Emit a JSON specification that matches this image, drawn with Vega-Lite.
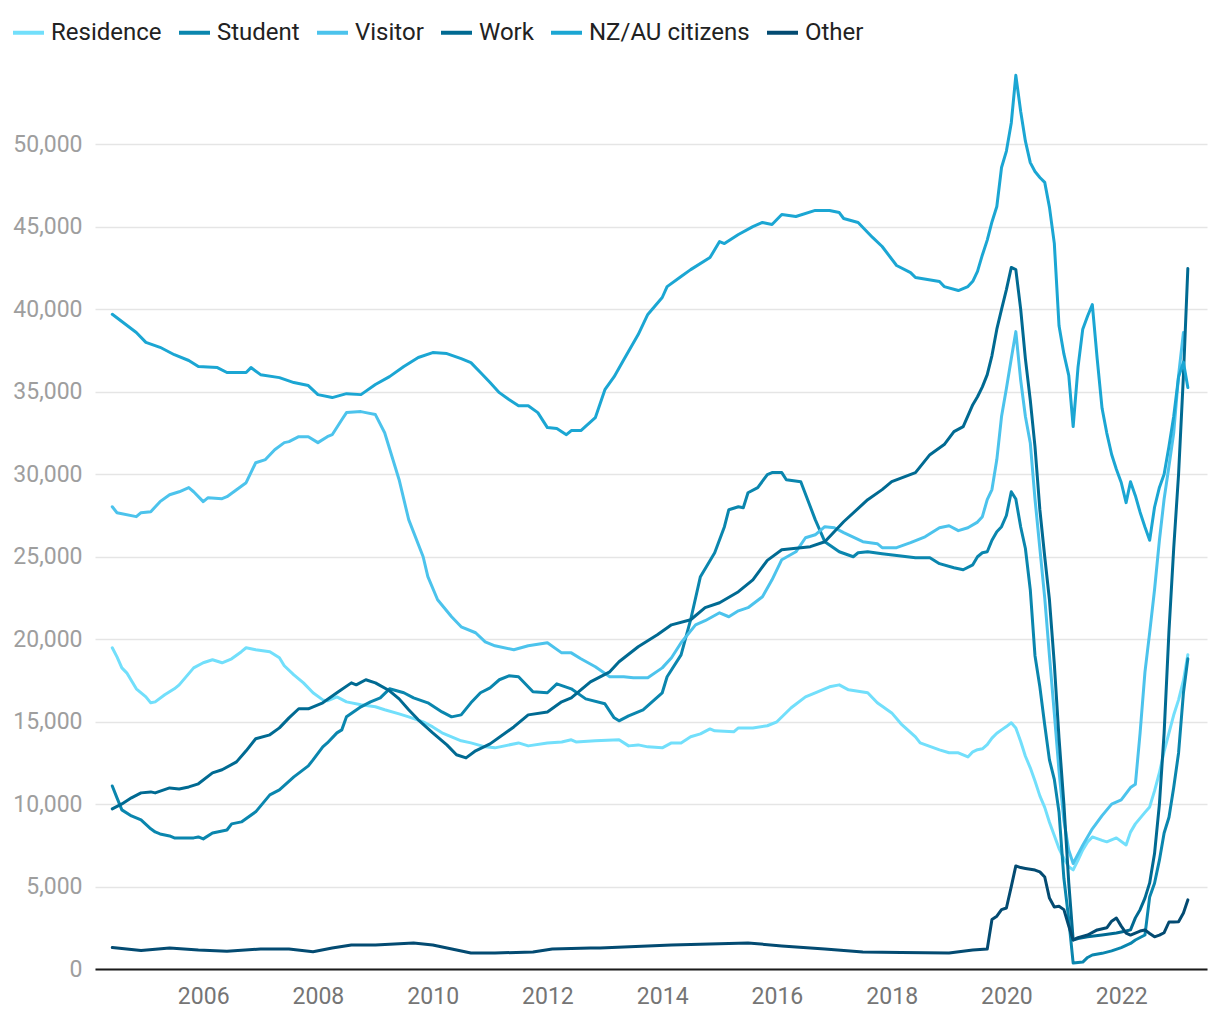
{
"$schema":"https://vega.github.io/schema/vega-lite/v6.json",
"width":1112,"height":907,
"autosize":{"type":"none"},
"padding":{"left":95,"top":62,"right":13,"bottom":51},
"background":"white",
"config":{"font":"Roboto","view":{"stroke":null}},
"datasets":{"rows":[
{"date":"2004-06","series":"Residence","value":19480},{"date":"2004-07","series":"Residence","value":18930},{"date":"2004-08","series":"Residence","value":18260},{"date":"2004-09","series":"Residence","value":17960},{"date":"2004-11","series":"Residence","value":16990},{"date":"2005-01","series":"Residence","value":16500},{"date":"2005-02","series":"Residence","value":16140},{"date":"2005-03","series":"Residence","value":16200},{"date":"2005-05","series":"Residence","value":16630},{"date":"2005-07","series":"Residence","value":16990},{"date":"2005-08","series":"Residence","value":17230},{"date":"2005-11","series":"Residence","value":18260},{"date":"2006-01","series":"Residence","value":18570},{"date":"2006-03","series":"Residence","value":18750},{"date":"2006-05","series":"Residence","value":18570},{"date":"2006-07","series":"Residence","value":18810},{"date":"2006-09","series":"Residence","value":19240},{"date":"2006-10","series":"Residence","value":19480},{"date":"2006-12","series":"Residence","value":19360},{"date":"2007-03","series":"Residence","value":19240},{"date":"2007-05","series":"Residence","value":18870},{"date":"2007-06","series":"Residence","value":18390},{"date":"2007-08","series":"Residence","value":17840},{"date":"2007-10","series":"Residence","value":17350},{"date":"2007-12","series":"Residence","value":16750},{"date":"2008-02","series":"Residence","value":16320},{"date":"2008-03","series":"Residence","value":16260},{"date":"2008-05","series":"Residence","value":16500},{"date":"2008-07","series":"Residence","value":16200},{"date":"2008-10","series":"Residence","value":16020},{"date":"2009-01","series":"Residence","value":15900},{"date":"2009-03","series":"Residence","value":15720},{"date":"2009-06","series":"Residence","value":15470},{"date":"2009-08","series":"Residence","value":15290},{"date":"2009-11","series":"Residence","value":14990},{"date":"2010-01","series":"Residence","value":14680},{"date":"2010-03","series":"Residence","value":14320},{"date":"2010-05","series":"Residence","value":14080},{"date":"2010-07","series":"Residence","value":13840},{"date":"2010-09","series":"Residence","value":13710},{"date":"2010-12","series":"Residence","value":13470},{"date":"2011-02","series":"Residence","value":13410},{"date":"2011-07","series":"Residence","value":13710},{"date":"2011-09","series":"Residence","value":13530},{"date":"2012-01","series":"Residence","value":13710},{"date":"2012-04","series":"Residence","value":13770},{"date":"2012-06","series":"Residence","value":13900},{"date":"2012-07","series":"Residence","value":13770},{"date":"2012-11","series":"Residence","value":13840},{"date":"2013-04","series":"Residence","value":13900},{"date":"2013-06","series":"Residence","value":13530},{"date":"2013-08","series":"Residence","value":13590},{"date":"2013-10","series":"Residence","value":13470},{"date":"2014-01","series":"Residence","value":13410},{"date":"2014-03","series":"Residence","value":13710},{"date":"2014-05","series":"Residence","value":13710},{"date":"2014-07","series":"Residence","value":14080},{"date":"2014-09","series":"Residence","value":14260},{"date":"2014-11","series":"Residence","value":14560},{"date":"2014-12","series":"Residence","value":14440},{"date":"2015-04","series":"Residence","value":14380},{"date":"2015-05","series":"Residence","value":14620},{"date":"2015-08","series":"Residence","value":14620},{"date":"2015-11","series":"Residence","value":14750},{"date":"2016-01","series":"Residence","value":14990},{"date":"2016-04","series":"Residence","value":15840},{"date":"2016-07","series":"Residence","value":16500},{"date":"2016-09","series":"Residence","value":16750},{"date":"2016-12","series":"Residence","value":17110},{"date":"2017-02","series":"Residence","value":17230},{"date":"2017-04","series":"Residence","value":16930},{"date":"2017-08","series":"Residence","value":16750},{"date":"2017-10","series":"Residence","value":16140},{"date":"2018-01","series":"Residence","value":15530},{"date":"2018-03","series":"Residence","value":14870},{"date":"2018-06","series":"Residence","value":14080},{"date":"2018-07","series":"Residence","value":13710},{"date":"2018-11","series":"Residence","value":13290},{"date":"2019-01","series":"Residence","value":13110},{"date":"2019-03","series":"Residence","value":13110},{"date":"2019-05","series":"Residence","value":12860},{"date":"2019-06","series":"Residence","value":13170},{"date":"2019-07","series":"Residence","value":13300},{"date":"2019-08","series":"Residence","value":13350},{"date":"2019-09","series":"Residence","value":13600},{"date":"2019-10","series":"Residence","value":14000},{"date":"2019-11","series":"Residence","value":14300},{"date":"2019-12","series":"Residence","value":14500},{"date":"2020-01","series":"Residence","value":14700},{"date":"2020-02","series":"Residence","value":14930},{"date":"2020-03","series":"Residence","value":14620},{"date":"2020-04","series":"Residence","value":13800},{"date":"2020-05","series":"Residence","value":12900},{"date":"2020-06","series":"Residence","value":12200},{"date":"2020-07","series":"Residence","value":11400},{"date":"2020-08","series":"Residence","value":10500},{"date":"2020-09","series":"Residence","value":9800},{"date":"2020-10","series":"Residence","value":8900},{"date":"2020-11","series":"Residence","value":8100},{"date":"2020-12","series":"Residence","value":7300},{"date":"2021-01","series":"Residence","value":6700},{"date":"2021-02","series":"Residence","value":6200},{"date":"2021-03","series":"Residence","value":6010},{"date":"2021-04","series":"Residence","value":6600},{"date":"2021-05","series":"Residence","value":7220},{"date":"2021-06","series":"Residence","value":7700},{"date":"2021-07","series":"Residence","value":8010},{"date":"2021-09","series":"Residence","value":7800},{"date":"2021-10","series":"Residence","value":7710},{"date":"2021-12","series":"Residence","value":7950},{"date":"2022-02","series":"Residence","value":7520},{"date":"2022-03","series":"Residence","value":8300},{"date":"2022-04","series":"Residence","value":8800},{"date":"2022-06","series":"Residence","value":9500},{"date":"2022-07","series":"Residence","value":9830},{"date":"2022-08","series":"Residence","value":10800},{"date":"2022-09","series":"Residence","value":11900},{"date":"2022-10","series":"Residence","value":13200},{"date":"2022-11","series":"Residence","value":14320},{"date":"2022-12","series":"Residence","value":15400},{"date":"2023-01","series":"Residence","value":16320},{"date":"2023-02","series":"Residence","value":17500},{"date":"2023-03","series":"Residence","value":19050},
{"date":"2004-06","series":"Student","value":11100},{"date":"2004-07","series":"Student","value":10380},{"date":"2004-08","series":"Student","value":9650},{"date":"2004-10","series":"Student","value":9280},{"date":"2004-12","series":"Student","value":9040},{"date":"2005-02","series":"Student","value":8500},{"date":"2005-03","series":"Student","value":8310},{"date":"2005-04","series":"Student","value":8190},{"date":"2005-06","series":"Student","value":8070},{"date":"2005-07","series":"Student","value":7950},{"date":"2005-11","series":"Student","value":7950},{"date":"2005-12","series":"Student","value":8010},{"date":"2006-01","series":"Student","value":7890},{"date":"2006-03","series":"Student","value":8250},{"date":"2006-06","series":"Student","value":8430},{"date":"2006-07","series":"Student","value":8800},{"date":"2006-09","series":"Student","value":8920},{"date":"2006-12","series":"Student","value":9530},{"date":"2007-03","series":"Student","value":10560},{"date":"2007-05","series":"Student","value":10860},{"date":"2007-08","series":"Student","value":11650},{"date":"2007-11","series":"Student","value":12320},{"date":"2007-12","series":"Student","value":12680},{"date":"2008-02","series":"Student","value":13470},{"date":"2008-03","series":"Student","value":13710},{"date":"2008-05","series":"Student","value":14320},{"date":"2008-06","series":"Student","value":14500},{"date":"2008-07","series":"Student","value":15290},{"date":"2008-10","series":"Student","value":15900},{"date":"2008-12","series":"Student","value":16200},{"date":"2009-02","series":"Student","value":16440},{"date":"2009-04","series":"Student","value":16990},{"date":"2009-07","series":"Student","value":16750},{"date":"2009-09","series":"Student","value":16440},{"date":"2009-12","series":"Student","value":16140},{"date":"2010-03","series":"Student","value":15590},{"date":"2010-05","series":"Student","value":15290},{"date":"2010-07","series":"Student","value":15410},{"date":"2010-09","series":"Student","value":16140},{"date":"2010-11","series":"Student","value":16750},{"date":"2011-01","series":"Student","value":17050},{"date":"2011-03","series":"Student","value":17540},{"date":"2011-05","series":"Student","value":17780},{"date":"2011-07","series":"Student","value":17720},{"date":"2011-10","series":"Student","value":16810},{"date":"2012-01","series":"Student","value":16750},{"date":"2012-03","series":"Student","value":17290},{"date":"2012-06","series":"Student","value":16990},{"date":"2012-09","series":"Student","value":16380},{"date":"2013-01","series":"Student","value":16080},{"date":"2013-03","series":"Student","value":15230},{"date":"2013-04","series":"Student","value":15050},{"date":"2013-06","series":"Student","value":15350},{"date":"2013-09","series":"Student","value":15720},{"date":"2014-01","series":"Student","value":16750},{"date":"2014-02","series":"Student","value":17720},{"date":"2014-05","series":"Student","value":19050},{"date":"2014-07","series":"Student","value":21180},{"date":"2014-09","series":"Student","value":23790},{"date":"2014-12","series":"Student","value":25240},{"date":"2015-02","series":"Student","value":26820},{"date":"2015-03","series":"Student","value":27850},{"date":"2015-05","series":"Student","value":28030},{"date":"2015-06","series":"Student","value":27970},{"date":"2015-07","series":"Student","value":28880},{"date":"2015-09","series":"Student","value":29190},{"date":"2015-11","series":"Student","value":29980},{"date":"2015-12","series":"Student","value":30100},{"date":"2016-02","series":"Student","value":30100},{"date":"2016-03","series":"Student","value":29670},{"date":"2016-06","series":"Student","value":29550},{"date":"2016-09","series":"Student","value":27250},{"date":"2016-11","series":"Student","value":25910},{"date":"2017-02","series":"Student","value":25300},{"date":"2017-05","series":"Student","value":25000},{"date":"2017-06","series":"Student","value":25240},{"date":"2017-08","series":"Student","value":25300},{"date":"2017-11","series":"Student","value":25180},{"date":"2018-06","series":"Student","value":24940},{"date":"2018-09","series":"Student","value":24940},{"date":"2018-11","series":"Student","value":24580},{"date":"2019-02","series":"Student","value":24330},{"date":"2019-04","series":"Student","value":24210},{"date":"2019-06","series":"Student","value":24510},{"date":"2019-07","series":"Student","value":25000},{"date":"2019-08","series":"Student","value":25240},{"date":"2019-09","series":"Student","value":25300},{"date":"2019-10","series":"Student","value":26000},{"date":"2019-11","series":"Student","value":26520},{"date":"2019-12","series":"Student","value":26820},{"date":"2020-01","series":"Student","value":27500},{"date":"2020-02","series":"Student","value":28940},{"date":"2020-03","series":"Student","value":28500},{"date":"2020-04","series":"Student","value":26800},{"date":"2020-05","series":"Student","value":25500},{"date":"2020-06","series":"Student","value":23000},{"date":"2020-07","series":"Student","value":19000},{"date":"2020-08","series":"Student","value":17110},{"date":"2020-09","series":"Student","value":14800},{"date":"2020-10","series":"Student","value":12680},{"date":"2020-11","series":"Student","value":11500},{"date":"2020-12","series":"Student","value":9500},{"date":"2021-01","series":"Student","value":5500},{"date":"2021-02","series":"Student","value":3000},{"date":"2021-03","series":"Student","value":360},{"date":"2021-04","series":"Student","value":400},{"date":"2021-05","series":"Student","value":420},{"date":"2021-06","series":"Student","value":700},{"date":"2021-07","series":"Student","value":850},{"date":"2021-09","series":"Student","value":950},{"date":"2021-11","series":"Student","value":1100},{"date":"2022-01","series":"Student","value":1300},{"date":"2022-03","series":"Student","value":1550},{"date":"2022-04","series":"Student","value":1760},{"date":"2022-06","series":"Student","value":2060},{"date":"2022-07","series":"Student","value":4370},{"date":"2022-08","series":"Student","value":5200},{"date":"2022-09","series":"Student","value":6600},{"date":"2022-10","series":"Student","value":8250},{"date":"2022-11","series":"Student","value":9200},{"date":"2022-12","series":"Student","value":11000},{"date":"2023-01","series":"Student","value":13100},{"date":"2023-02","series":"Student","value":16750},{"date":"2023-03","series":"Student","value":18810},
{"date":"2004-06","series":"Visitor","value":28030},{"date":"2004-07","series":"Visitor","value":27670},{"date":"2004-11","series":"Visitor","value":27430},{"date":"2004-12","series":"Visitor","value":27670},{"date":"2005-02","series":"Visitor","value":27730},{"date":"2005-04","series":"Visitor","value":28340},{"date":"2005-06","series":"Visitor","value":28760},{"date":"2005-08","series":"Visitor","value":28940},{"date":"2005-10","series":"Visitor","value":29190},{"date":"2005-11","series":"Visitor","value":28940},{"date":"2006-01","series":"Visitor","value":28340},{"date":"2006-02","series":"Visitor","value":28580},{"date":"2006-05","series":"Visitor","value":28520},{"date":"2006-06","series":"Visitor","value":28640},{"date":"2006-10","series":"Visitor","value":29490},{"date":"2006-12","series":"Visitor","value":30700},{"date":"2007-02","series":"Visitor","value":30890},{"date":"2007-04","series":"Visitor","value":31490},{"date":"2007-06","series":"Visitor","value":31920},{"date":"2007-07","series":"Visitor","value":31980},{"date":"2007-09","series":"Visitor","value":32280},{"date":"2007-11","series":"Visitor","value":32280},{"date":"2008-01","series":"Visitor","value":31920},{"date":"2008-03","series":"Visitor","value":32280},{"date":"2008-04","series":"Visitor","value":32400},{"date":"2008-06","series":"Visitor","value":33310},{"date":"2008-07","series":"Visitor","value":33740},{"date":"2008-10","series":"Visitor","value":33800},{"date":"2008-11","series":"Visitor","value":33740},{"date":"2009-01","series":"Visitor","value":33620},{"date":"2009-03","series":"Visitor","value":32520},{"date":"2009-06","series":"Visitor","value":29670},{"date":"2009-08","series":"Visitor","value":27250},{"date":"2009-11","series":"Visitor","value":25000},{"date":"2009-12","series":"Visitor","value":23790},{"date":"2010-02","series":"Visitor","value":22390},{"date":"2010-05","series":"Visitor","value":21360},{"date":"2010-07","series":"Visitor","value":20750},{"date":"2010-10","series":"Visitor","value":20390},{"date":"2010-12","series":"Visitor","value":19840},{"date":"2011-02","series":"Visitor","value":19600},{"date":"2011-06","series":"Visitor","value":19360},{"date":"2011-09","series":"Visitor","value":19600},{"date":"2012-01","series":"Visitor","value":19780},{"date":"2012-04","series":"Visitor","value":19170},{"date":"2012-06","series":"Visitor","value":19170},{"date":"2012-08","series":"Visitor","value":18810},{"date":"2012-11","series":"Visitor","value":18330},{"date":"2013-02","series":"Visitor","value":17720},{"date":"2013-05","series":"Visitor","value":17720},{"date":"2013-07","series":"Visitor","value":17660},{"date":"2013-10","series":"Visitor","value":17660},{"date":"2014-01","series":"Visitor","value":18260},{"date":"2014-03","series":"Visitor","value":18870},{"date":"2014-05","series":"Visitor","value":19780},{"date":"2014-08","series":"Visitor","value":20870},{"date":"2014-10","series":"Visitor","value":21120},{"date":"2015-01","series":"Visitor","value":21600},{"date":"2015-03","series":"Visitor","value":21360},{"date":"2015-05","series":"Visitor","value":21720},{"date":"2015-07","series":"Visitor","value":21910},{"date":"2015-10","series":"Visitor","value":22570},{"date":"2015-12","series":"Visitor","value":23600},{"date":"2016-02","series":"Visitor","value":24820},{"date":"2016-05","series":"Visitor","value":25300},{"date":"2016-07","series":"Visitor","value":26150},{"date":"2016-09","series":"Visitor","value":26330},{"date":"2016-11","series":"Visitor","value":26820},{"date":"2017-01","series":"Visitor","value":26760},{"date":"2017-03","series":"Visitor","value":26460},{"date":"2017-07","series":"Visitor","value":25910},{"date":"2017-10","series":"Visitor","value":25790},{"date":"2017-11","series":"Visitor","value":25550},{"date":"2018-02","series":"Visitor","value":25550},{"date":"2018-05","series":"Visitor","value":25850},{"date":"2018-08","series":"Visitor","value":26210},{"date":"2018-11","series":"Visitor","value":26760},{"date":"2019-01","series":"Visitor","value":26880},{"date":"2019-03","series":"Visitor","value":26580},{"date":"2019-05","series":"Visitor","value":26760},{"date":"2019-07","series":"Visitor","value":27100},{"date":"2019-08","series":"Visitor","value":27430},{"date":"2019-09","series":"Visitor","value":28460},{"date":"2019-10","series":"Visitor","value":29070},{"date":"2019-11","series":"Visitor","value":30890},{"date":"2019-12","series":"Visitor","value":33500},{"date":"2020-01","series":"Visitor","value":35200},{"date":"2020-02","series":"Visitor","value":37000},{"date":"2020-03","series":"Visitor","value":38650},{"date":"2020-04","series":"Visitor","value":35700},{"date":"2020-05","series":"Visitor","value":33500},{"date":"2020-06","series":"Visitor","value":31900},{"date":"2020-07","series":"Visitor","value":28500},{"date":"2020-08","series":"Visitor","value":25500},{"date":"2020-09","series":"Visitor","value":22500},{"date":"2020-10","series":"Visitor","value":19000},{"date":"2020-11","series":"Visitor","value":15500},{"date":"2020-12","series":"Visitor","value":12000},{"date":"2021-01","series":"Visitor","value":9000},{"date":"2021-02","series":"Visitor","value":7200},{"date":"2021-03","series":"Visitor","value":6400},{"date":"2021-05","series":"Visitor","value":7500},{"date":"2021-07","series":"Visitor","value":8500},{"date":"2021-09","series":"Visitor","value":9300},{"date":"2021-11","series":"Visitor","value":10000},{"date":"2022-01","series":"Visitor","value":10250},{"date":"2022-03","series":"Visitor","value":11000},{"date":"2022-04","series":"Visitor","value":11200},{"date":"2022-05","series":"Visitor","value":14300},{"date":"2022-06","series":"Visitor","value":18000},{"date":"2022-07","series":"Visitor","value":20400},{"date":"2022-08","series":"Visitor","value":23000},{"date":"2022-09","series":"Visitor","value":26000},{"date":"2022-10","series":"Visitor","value":28500},{"date":"2022-11","series":"Visitor","value":30500},{"date":"2022-12","series":"Visitor","value":32500},{"date":"2023-01","series":"Visitor","value":36000},{"date":"2023-02","series":"Visitor","value":38600},
{"date":"2004-06","series":"Work","value":9710},{"date":"2004-08","series":"Work","value":10010},{"date":"2004-10","series":"Work","value":10380},{"date":"2004-12","series":"Work","value":10680},{"date":"2005-02","series":"Work","value":10740},{"date":"2005-03","series":"Work","value":10680},{"date":"2005-06","series":"Work","value":10980},{"date":"2005-08","series":"Work","value":10920},{"date":"2005-10","series":"Work","value":11040},{"date":"2005-12","series":"Work","value":11230},{"date":"2006-03","series":"Work","value":11890},{"date":"2006-05","series":"Work","value":12080},{"date":"2006-08","series":"Work","value":12560},{"date":"2006-10","series":"Work","value":13230},{"date":"2006-12","series":"Work","value":13960},{"date":"2007-03","series":"Work","value":14200},{"date":"2007-05","series":"Work","value":14620},{"date":"2007-07","series":"Work","value":15230},{"date":"2007-09","series":"Work","value":15780},{"date":"2007-11","series":"Work","value":15780},{"date":"2008-02","series":"Work","value":16140},{"date":"2008-05","series":"Work","value":16750},{"date":"2008-08","series":"Work","value":17350},{"date":"2008-09","series":"Work","value":17230},{"date":"2008-11","series":"Work","value":17540},{"date":"2009-01","series":"Work","value":17350},{"date":"2009-04","series":"Work","value":16870},{"date":"2009-06","series":"Work","value":16380},{"date":"2009-08","series":"Work","value":15720},{"date":"2009-10","series":"Work","value":15110},{"date":"2010-01","series":"Work","value":14320},{"date":"2010-04","series":"Work","value":13590},{"date":"2010-06","series":"Work","value":12990},{"date":"2010-08","series":"Work","value":12800},{"date":"2010-10","series":"Work","value":13230},{"date":"2011-01","series":"Work","value":13650},{"date":"2011-06","series":"Work","value":14680},{"date":"2011-09","series":"Work","value":15410},{"date":"2012-01","series":"Work","value":15590},{"date":"2012-04","series":"Work","value":16200},{"date":"2012-06","series":"Work","value":16440},{"date":"2012-10","series":"Work","value":17410},{"date":"2013-02","series":"Work","value":18020},{"date":"2013-04","series":"Work","value":18630},{"date":"2013-08","series":"Work","value":19540},{"date":"2013-12","series":"Work","value":20270},{"date":"2014-03","series":"Work","value":20870},{"date":"2014-07","series":"Work","value":21180},{"date":"2014-10","series":"Work","value":21910},{"date":"2015-01","series":"Work","value":22210},{"date":"2015-05","series":"Work","value":22880},{"date":"2015-08","series":"Work","value":23600},{"date":"2015-11","series":"Work","value":24780},{"date":"2016-02","series":"Work","value":25420},{"date":"2016-04","series":"Work","value":25490},{"date":"2016-08","series":"Work","value":25610},{"date":"2016-11","series":"Work","value":25910},{"date":"2017-03","series":"Work","value":27120},{"date":"2017-08","series":"Work","value":28460},{"date":"2017-11","series":"Work","value":29070},{"date":"2018-01","series":"Work","value":29550},{"date":"2018-06","series":"Work","value":30100},{"date":"2018-09","series":"Work","value":31190},{"date":"2018-12","series":"Work","value":31800},{"date":"2019-02","series":"Work","value":32590},{"date":"2019-04","series":"Work","value":32890},{"date":"2019-06","series":"Work","value":34220},{"date":"2019-07","series":"Work","value":34700},{"date":"2019-08","series":"Work","value":35300},{"date":"2019-09","series":"Work","value":36040},{"date":"2019-10","series":"Work","value":37200},{"date":"2019-11","series":"Work","value":38800},{"date":"2019-12","series":"Work","value":40000},{"date":"2020-01","series":"Work","value":41200},{"date":"2020-02","series":"Work","value":42540},{"date":"2020-03","series":"Work","value":42410},{"date":"2020-04","series":"Work","value":40000},{"date":"2020-05","series":"Work","value":37000},{"date":"2020-06","series":"Work","value":34500},{"date":"2020-07","series":"Work","value":31680},{"date":"2020-08","series":"Work","value":27850},{"date":"2020-09","series":"Work","value":25000},{"date":"2020-10","series":"Work","value":22390},{"date":"2020-11","series":"Work","value":18500},{"date":"2020-12","series":"Work","value":14000},{"date":"2021-01","series":"Work","value":10000},{"date":"2021-02","series":"Work","value":5220},{"date":"2021-03","series":"Work","value":1760},{"date":"2021-04","series":"Work","value":1850},{"date":"2021-06","series":"Work","value":1950},{"date":"2021-09","series":"Work","value":2060},{"date":"2021-12","series":"Work","value":2180},{"date":"2022-02","series":"Work","value":2300},{"date":"2022-03","series":"Work","value":2370},{"date":"2022-04","series":"Work","value":3100},{"date":"2022-05","series":"Work","value":3600},{"date":"2022-06","series":"Work","value":4300},{"date":"2022-07","series":"Work","value":5220},{"date":"2022-08","series":"Work","value":7000},{"date":"2022-09","series":"Work","value":10000},{"date":"2022-10","series":"Work","value":14300},{"date":"2022-11","series":"Work","value":20500},{"date":"2022-12","series":"Work","value":25500},{"date":"2023-01","series":"Work","value":30000},{"date":"2023-02","series":"Work","value":36000},{"date":"2023-03","series":"Work","value":42480},
{"date":"2004-06","series":"NZ/AU citizens","value":39700},{"date":"2004-11","series":"NZ/AU citizens","value":38600},{"date":"2005-01","series":"NZ/AU citizens","value":38000},{"date":"2005-04","series":"NZ/AU citizens","value":37700},{"date":"2005-07","series":"NZ/AU citizens","value":37250},{"date":"2005-10","series":"NZ/AU citizens","value":36900},{"date":"2005-12","series":"NZ/AU citizens","value":36530},{"date":"2006-04","series":"NZ/AU citizens","value":36470},{"date":"2006-06","series":"NZ/AU citizens","value":36170},{"date":"2006-10","series":"NZ/AU citizens","value":36170},{"date":"2006-11","series":"NZ/AU citizens","value":36470},{"date":"2007-01","series":"NZ/AU citizens","value":36040},{"date":"2007-05","series":"NZ/AU citizens","value":35860},{"date":"2007-08","series":"NZ/AU citizens","value":35560},{"date":"2007-11","series":"NZ/AU citizens","value":35380},{"date":"2008-01","series":"NZ/AU citizens","value":34830},{"date":"2008-04","series":"NZ/AU citizens","value":34650},{"date":"2008-07","series":"NZ/AU citizens","value":34890},{"date":"2008-10","series":"NZ/AU citizens","value":34830},{"date":"2009-01","series":"NZ/AU citizens","value":35440},{"date":"2009-04","series":"NZ/AU citizens","value":35920},{"date":"2009-07","series":"NZ/AU citizens","value":36530},{"date":"2009-10","series":"NZ/AU citizens","value":37080},{"date":"2010-01","series":"NZ/AU citizens","value":37380},{"date":"2010-04","series":"NZ/AU citizens","value":37320},{"date":"2010-07","series":"NZ/AU citizens","value":37010},{"date":"2010-09","series":"NZ/AU citizens","value":36770},{"date":"2010-11","series":"NZ/AU citizens","value":36170},{"date":"2011-01","series":"NZ/AU citizens","value":35560},{"date":"2011-03","series":"NZ/AU citizens","value":34950},{"date":"2011-05","series":"NZ/AU citizens","value":34530},{"date":"2011-07","series":"NZ/AU citizens","value":34160},{"date":"2011-09","series":"NZ/AU citizens","value":34160},{"date":"2011-11","series":"NZ/AU citizens","value":33740},{"date":"2012-01","series":"NZ/AU citizens","value":32830},{"date":"2012-03","series":"NZ/AU citizens","value":32770},{"date":"2012-05","series":"NZ/AU citizens","value":32400},{"date":"2012-06","series":"NZ/AU citizens","value":32650},{"date":"2012-08","series":"NZ/AU citizens","value":32650},{"date":"2012-11","series":"NZ/AU citizens","value":33430},{"date":"2013-01","series":"NZ/AU citizens","value":35130},{"date":"2013-03","series":"NZ/AU citizens","value":35920},{"date":"2013-05","series":"NZ/AU citizens","value":36950},{"date":"2013-08","series":"NZ/AU citizens","value":38470},{"date":"2013-10","series":"NZ/AU citizens","value":39690},{"date":"2014-01","series":"NZ/AU citizens","value":40720},{"date":"2014-02","series":"NZ/AU citizens","value":41380},{"date":"2014-05","series":"NZ/AU citizens","value":41990},{"date":"2014-07","series":"NZ/AU citizens","value":42410},{"date":"2014-11","series":"NZ/AU citizens","value":43140},{"date":"2015-01","series":"NZ/AU citizens","value":44110},{"date":"2015-02","series":"NZ/AU citizens","value":43990},{"date":"2015-05","series":"NZ/AU citizens","value":44540},{"date":"2015-08","series":"NZ/AU citizens","value":45020},{"date":"2015-10","series":"NZ/AU citizens","value":45270},{"date":"2015-12","series":"NZ/AU citizens","value":45150},{"date":"2016-02","series":"NZ/AU citizens","value":45750},{"date":"2016-05","series":"NZ/AU citizens","value":45630},{"date":"2016-09","series":"NZ/AU citizens","value":46000},{"date":"2016-12","series":"NZ/AU citizens","value":46000},{"date":"2017-02","series":"NZ/AU citizens","value":45870},{"date":"2017-03","series":"NZ/AU citizens","value":45510},{"date":"2017-06","series":"NZ/AU citizens","value":45270},{"date":"2017-09","series":"NZ/AU citizens","value":44360},{"date":"2017-11","series":"NZ/AU citizens","value":43810},{"date":"2018-02","series":"NZ/AU citizens","value":42660},{"date":"2018-05","series":"NZ/AU citizens","value":42230},{"date":"2018-06","series":"NZ/AU citizens","value":41930},{"date":"2018-11","series":"NZ/AU citizens","value":41690},{"date":"2018-12","series":"NZ/AU citizens","value":41380},{"date":"2019-03","series":"NZ/AU citizens","value":41140},{"date":"2019-05","series":"NZ/AU citizens","value":41380},{"date":"2019-06","series":"NZ/AU citizens","value":41700},{"date":"2019-07","series":"NZ/AU citizens","value":42300},{"date":"2019-08","series":"NZ/AU citizens","value":43300},{"date":"2019-09","series":"NZ/AU citizens","value":44200},{"date":"2019-10","series":"NZ/AU citizens","value":45300},{"date":"2019-11","series":"NZ/AU citizens","value":46240},{"date":"2019-12","series":"NZ/AU citizens","value":48600},{"date":"2020-01","series":"NZ/AU citizens","value":49600},{"date":"2020-02","series":"NZ/AU citizens","value":51300},{"date":"2020-03","series":"NZ/AU citizens","value":54190},{"date":"2020-04","series":"NZ/AU citizens","value":52000},{"date":"2020-05","series":"NZ/AU citizens","value":50200},{"date":"2020-06","series":"NZ/AU citizens","value":48900},{"date":"2020-07","series":"NZ/AU citizens","value":48360},{"date":"2020-08","series":"NZ/AU citizens","value":48000},{"date":"2020-09","series":"NZ/AU citizens","value":47700},{"date":"2020-10","series":"NZ/AU citizens","value":46200},{"date":"2020-11","series":"NZ/AU citizens","value":44000},{"date":"2020-12","series":"NZ/AU citizens","value":39000},{"date":"2021-01","series":"NZ/AU citizens","value":37300},{"date":"2021-02","series":"NZ/AU citizens","value":36000},{"date":"2021-03","series":"NZ/AU citizens","value":32890},{"date":"2021-04","series":"NZ/AU citizens","value":36500},{"date":"2021-05","series":"NZ/AU citizens","value":38800},{"date":"2021-06","series":"NZ/AU citizens","value":39600},{"date":"2021-07","series":"NZ/AU citizens","value":40290},{"date":"2021-08","series":"NZ/AU citizens","value":37000},{"date":"2021-09","series":"NZ/AU citizens","value":34000},{"date":"2021-10","series":"NZ/AU citizens","value":32500},{"date":"2021-11","series":"NZ/AU citizens","value":31200},{"date":"2021-12","series":"NZ/AU citizens","value":30300},{"date":"2022-01","series":"NZ/AU citizens","value":29500},{"date":"2022-02","series":"NZ/AU citizens","value":28280},{"date":"2022-03","series":"NZ/AU citizens","value":29550},{"date":"2022-04","series":"NZ/AU citizens","value":28700},{"date":"2022-05","series":"NZ/AU citizens","value":27700},{"date":"2022-06","series":"NZ/AU citizens","value":26800},{"date":"2022-07","series":"NZ/AU citizens","value":26000},{"date":"2022-08","series":"NZ/AU citizens","value":28000},{"date":"2022-09","series":"NZ/AU citizens","value":29200},{"date":"2022-10","series":"NZ/AU citizens","value":30000},{"date":"2022-11","series":"NZ/AU citizens","value":31700},{"date":"2022-12","series":"NZ/AU citizens","value":33500},{"date":"2023-01","series":"NZ/AU citizens","value":35900},{"date":"2023-02","series":"NZ/AU citizens","value":36800},{"date":"2023-03","series":"NZ/AU citizens","value":35260},
{"date":"2004-06","series":"Other","value":1300},{"date":"2004-12","series":"Other","value":1120},{"date":"2005-06","series":"Other","value":1270},{"date":"2005-12","series":"Other","value":1150},{"date":"2006-06","series":"Other","value":1080},{"date":"2007-01","series":"Other","value":1210},{"date":"2007-07","series":"Other","value":1210},{"date":"2007-12","series":"Other","value":1050},{"date":"2008-04","series":"Other","value":1270},{"date":"2008-08","series":"Other","value":1460},{"date":"2009-01","series":"Other","value":1460},{"date":"2009-09","series":"Other","value":1580},{"date":"2010-01","series":"Other","value":1460},{"date":"2010-09","series":"Other","value":970},{"date":"2011-02","series":"Other","value":970},{"date":"2011-10","series":"Other","value":1030},{"date":"2012-02","series":"Other","value":1210},{"date":"2012-10","series":"Other","value":1270},{"date":"2012-12","series":"Other","value":1270},{"date":"2014-03","series":"Other","value":1460},{"date":"2015-07","series":"Other","value":1580},{"date":"2016-02","series":"Other","value":1400},{"date":"2016-11","series":"Other","value":1210},{"date":"2017-07","series":"Other","value":1030},{"date":"2018-03","series":"Other","value":1000},{"date":"2019-01","series":"Other","value":970},{"date":"2019-06","series":"Other","value":1150},{"date":"2019-09","series":"Other","value":1210},{"date":"2019-10","series":"Other","value":3000},{"date":"2019-11","series":"Other","value":3200},{"date":"2019-12","series":"Other","value":3600},{"date":"2020-01","series":"Other","value":3700},{"date":"2020-02","series":"Other","value":5000},{"date":"2020-03","series":"Other","value":6250},{"date":"2020-04","series":"Other","value":6150},{"date":"2020-05","series":"Other","value":6100},{"date":"2020-06","series":"Other","value":6050},{"date":"2020-07","series":"Other","value":6000},{"date":"2020-08","series":"Other","value":5890},{"date":"2020-09","series":"Other","value":5580},{"date":"2020-10","series":"Other","value":4300},{"date":"2020-11","series":"Other","value":3760},{"date":"2020-12","series":"Other","value":3800},{"date":"2021-01","series":"Other","value":3600},{"date":"2021-02","series":"Other","value":2600},{"date":"2021-03","series":"Other","value":1760},{"date":"2021-04","series":"Other","value":1900},{"date":"2021-06","series":"Other","value":2060},{"date":"2021-08","series":"Other","value":2370},{"date":"2021-10","series":"Other","value":2500},{"date":"2021-11","series":"Other","value":2900},{"date":"2021-12","series":"Other","value":3090},{"date":"2022-01","series":"Other","value":2600},{"date":"2022-02","series":"Other","value":2180},{"date":"2022-03","series":"Other","value":2060},{"date":"2022-05","series":"Other","value":2300},{"date":"2022-06","series":"Other","value":2370},{"date":"2022-07","series":"Other","value":2150},{"date":"2022-08","series":"Other","value":1950},{"date":"2022-09","series":"Other","value":2050},{"date":"2022-10","series":"Other","value":2200},{"date":"2022-11","series":"Other","value":2850},{"date":"2022-12","series":"Other","value":2850},{"date":"2023-01","series":"Other","value":2870},{"date":"2023-02","series":"Other","value":3400},{"date":"2023-03","series":"Other","value":4190}
]},
"data":{"name":"rows"},
"mark":{"type":"line","strokeWidth":3,"strokeJoin":"round","strokeCap":"round"},
"encoding":{
"x":{"field":"date","type":"temporal","scale":{"domain":[{"year":2004,"month":2,"date":12},{"year":2023,"month":7,"date":1}]},
"axis":{"title":null,"values":[{"year":2006},{"year":2008},{"year":2010},{"year":2012},{"year":2014},{"year":2016},{"year":2018},{"year":2020},{"year":2022}],"format":"%Y","labelFontSize":23,"labelFont":"Roboto","labelColor":"#757575","grid":false,"ticks":false,"domainColor":"#1a1a1a","domainWidth":2,"labelPadding":16}},
"y":{"field":"value","type":"quantitative","scale":{"domain":[0,55000],"nice":false},
"axis":{"title":null,"values":[0,5000,10000,15000,20000,25000,30000,35000,40000,45000,50000],"format":",d","labelFontSize":23,"labelFont":"Roboto","labelColor":"#9e9e9e","domain":false,"ticks":false,"labelPadding":13,"gridColor":"#e5e5e5","gridWidth":1.5}},
"color":{"field":"series","type":"nominal",
"scale":{"domain":["Residence","Student","Visitor","Work","NZ/AU citizens","Other"],"range":["#72dffb","#0a86ae","#4cc3ec","#006a92","#1ba6d3","#034b72"]},
"legend":{"title":null,"orient":"none","legendX":-84,"legendY":-47,"direction":"horizontal","symbolType":"stroke","symbolSize":961,"symbolStrokeWidth":4,"labelFontSize":24,"labelFont":"Roboto","labelColor":"#222222","labelLimit":400,"columnPadding":9,"labelOffset":5}}
}
}
